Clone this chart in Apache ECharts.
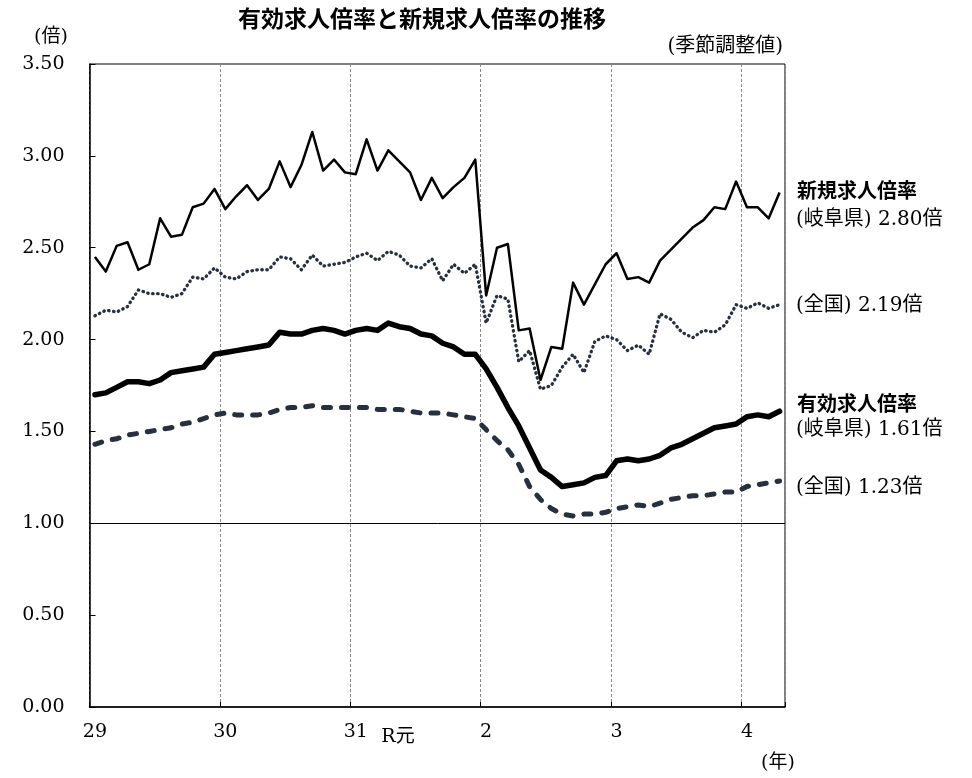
<!DOCTYPE html>
<html>
<head>
<meta charset="utf-8">
<script src="https://cdn.jsdelivr.net/npm/echarts@6/dist/echarts.min.js"></script>
<style>
html,body{margin:0;padding:0;background:#fff;}
#chart{width:972px;height:778px;}
</style>
</head>
<body>
<div id="chart"></div>
<script>
// x-axis year labels (heisei 29 .. reiwa 4) and months shown per year
const yearLabels = ['29', '30', '31', '2', '3', '4'];
const monthsShown = [12, 12, 12, 12, 12, 4];

// 新規求人倍率（岐阜県）
const newGifu = [2.45,2.37,2.51,2.53,2.38,2.41,2.66,2.56,2.57,2.72,2.74,2.82,
                 2.71,2.78,2.84,2.76,2.82,2.97,2.83,2.95,3.13,2.92,2.98,2.91,
                 2.90,3.09,2.92,3.03,2.97,2.91,2.76,2.88,2.77,2.83,2.88,2.98,
                 2.24,2.50,2.52,2.05,2.06,1.78,1.96,1.95,2.31,2.19,2.30,2.41,
                 2.47,2.33,2.34,2.31,2.43,2.49,2.55,2.61,2.65,2.72,2.71,2.86,
                 2.72,2.72,2.66,2.80];
// 新規求人倍率（全国）
const newJapan = [2.13,2.16,2.15,2.18,2.27,2.25,2.25,2.23,2.25,2.34,2.33,2.39,
                  2.34,2.33,2.37,2.38,2.38,2.45,2.44,2.38,2.46,2.40,2.41,2.42,
                  2.45,2.47,2.43,2.48,2.46,2.40,2.39,2.44,2.32,2.41,2.36,2.41,
                  2.09,2.24,2.22,1.88,1.94,1.73,1.75,1.85,1.92,1.82,1.99,2.02,
                  2.00,1.94,1.97,1.92,2.14,2.11,2.04,2.01,2.05,2.04,2.08,2.19,
                  2.17,2.20,2.17,2.19];
// 有効求人倍率（岐阜県）
const effGifu = [1.70,1.71,1.74,1.77,1.77,1.76,1.78,1.82,1.83,1.84,1.85,1.92,
                 1.93,1.94,1.95,1.96,1.97,2.04,2.03,2.03,2.05,2.06,2.05,2.03,
                 2.05,2.06,2.05,2.09,2.07,2.06,2.03,2.02,1.98,1.96,1.92,1.92,
                 1.84,1.74,1.63,1.53,1.41,1.29,1.25,1.20,1.21,1.22,1.25,1.26,
                 1.34,1.35,1.34,1.35,1.37,1.41,1.43,1.46,1.49,1.52,1.53,1.54,
                 1.58,1.59,1.58,1.61];
// 有効求人倍率（全国）
const effJapan = [1.43,1.45,1.46,1.48,1.49,1.50,1.51,1.52,1.54,1.55,1.57,1.59,
                  1.60,1.59,1.59,1.59,1.60,1.62,1.63,1.63,1.64,1.63,1.63,1.63,
                  1.63,1.63,1.62,1.62,1.62,1.61,1.60,1.60,1.60,1.59,1.58,1.57,
                  1.51,1.45,1.40,1.32,1.20,1.13,1.08,1.05,1.04,1.05,1.05,1.06,
                  1.08,1.09,1.10,1.09,1.11,1.13,1.14,1.15,1.15,1.16,1.17,1.17,
                  1.20,1.21,1.22,1.23];

const categories = [];
yearLabels.forEach(function (y, k) {
  for (let m = 1; m <= monthsShown[k]; m++) categories.push(y + '年' + m + '月');
});

const serifFont = "'DejaVu Serif', 'Noto Sans CJK JP'";
const navy = '#27303c';
const isJan = function (i) { return i % 12 === 0; };

const chart = echarts.init(document.getElementById('chart'));
chart.setOption({
  animation: false,
  backgroundColor: '#fff',
  grid: { left: 89.5, right: 187, top: 64, bottom: 71, show: true, borderColor: '#000', borderWidth: 1, backgroundColor: 'transparent' },
  xAxis: {
    type: 'category',
    data: categories,
    boundaryGap: true,
    axisLine: { lineStyle: { color: '#000', width: 1.5 } },
    axisTick: { show: true, inside: true, length: 5, interval: isJan, lineStyle: { color: '#000' } },
    axisLabel: {
      interval: isJan,
      formatter: function (v) { return v.split('年')[0]; },
      fontFamily: serifFont, fontSize: 19, color: '#000', margin: 16
    },
    splitLine: { show: true, interval: isJan, lineStyle: { color: '#8a8a8a', type: [3, 2], width: 1 } }
  },
  yAxis: {
    type: 'value', min: 0, max: 3.5, interval: 0.5,
    axisLine: { show: true, lineStyle: { color: '#000', width: 1.5 } },
    axisTick: { show: true, inside: true, length: 6, lineStyle: { color: '#000' } },
    axisLabel: { formatter: function (v) { return v.toFixed(2); }, fontFamily: serifFont, fontSize: 19, color: '#000', margin: 25 },
    splitLine: { show: false }
  },
  series: [
    {
      name: '新規求人倍率（岐阜県）', type: 'line', data: newGifu, symbol: 'none', z: 5,
      lineStyle: { color: '#000', width: 2.5, join: 'round' },
      markLine: {
        silent: true, symbol: 'none', label: { show: false },
        lineStyle: { color: '#000', width: 1, type: 'solid' },
        data: [{ yAxis: 1 }]
      }
    },
    {
      name: '新規求人倍率（全国）', type: 'line', data: newJapan, symbol: 'none', z: 4,
      lineStyle: { color: navy, width: 3.3, type: [0.5, 4.5], cap: 'round', join: 'round' }
    },
    {
      name: '有効求人倍率（岐阜県）', type: 'line', data: effGifu, symbol: 'none', z: 5,
      lineStyle: { color: '#000', width: 5.5, join: 'round', cap: 'round' }
    },
    {
      name: '有効求人倍率（全国）', type: 'line', data: effJapan, symbol: 'none', z: 4,
      lineStyle: { color: navy, width: 5, type: [7, 11], cap: 'round', join: 'round' }
    }
  ],
  graphic: [
    { type: 'text', x: 422, y: 18, style: { text: '有効求人倍率と新規求人倍率の推移', font: "bold 23px 'Noto Sans CJK JP'", fill: '#000', align: 'center', verticalAlign: 'middle' } },
    { type: 'text', x: 51, y: 37, style: { text: '(倍)', font: "19px " + serifFont, fill: '#000', align: 'center', verticalAlign: 'middle' } },
    { type: 'text', x: 783, y: 47, style: { text: '(季節調整値)', font: "20px " + serifFont, fill: '#000', align: 'right', verticalAlign: 'middle' } },
    { type: 'text', x: 398, y: 737, style: { text: 'R元', font: "19px " + serifFont, fill: '#000', align: 'center', verticalAlign: 'middle' } },
    { type: 'text', x: 778, y: 763, style: { text: '(年)', font: "19px " + serifFont, fill: '#000', align: 'center', verticalAlign: 'middle' } },
    { type: 'text', x: 797, y: 190, style: { text: '新規求人倍率', font: "bold 20px 'Noto Sans CJK JP'", fill: '#000', align: 'left', verticalAlign: 'middle' } },
    { type: 'text', x: 796, y: 220, style: { text: '(岐阜県) 2.80倍', font: "20px " + serifFont, fill: '#000', align: 'left', verticalAlign: 'middle' } },
    { type: 'text', x: 796, y: 306, style: { text: '(全国) 2.19倍', font: "20px " + serifFont, fill: '#000', align: 'left', verticalAlign: 'middle' } },
    { type: 'text', x: 797, y: 403, style: { text: '有効求人倍率', font: "bold 20px 'Noto Sans CJK JP'", fill: '#000', align: 'left', verticalAlign: 'middle' } },
    { type: 'text', x: 796, y: 430, style: { text: '(岐阜県) 1.61倍', font: "20px " + serifFont, fill: '#000', align: 'left', verticalAlign: 'middle' } },
    { type: 'text', x: 796, y: 488, style: { text: '(全国) 1.23倍', font: "20px " + serifFont, fill: '#000', align: 'left', verticalAlign: 'middle' } }
  ]
});
</script>
</body>
</html>
